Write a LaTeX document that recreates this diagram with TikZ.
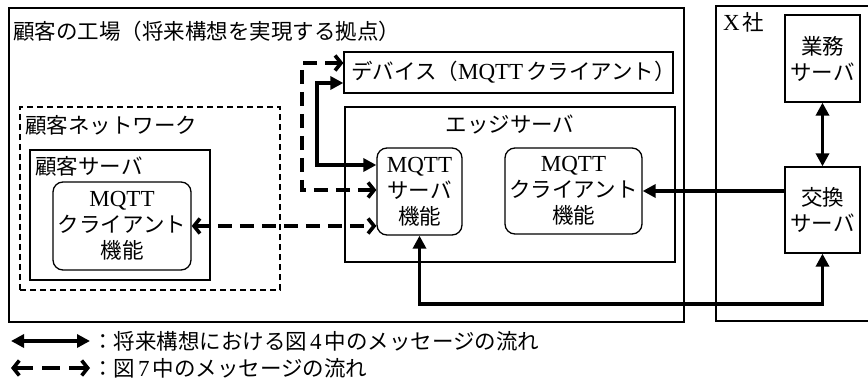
\documentclass[tikz,border=0pt]{standalone}
\usepackage{fontspec}
\setmainfont{Liberation Serif}
\newfontfamily\cjk{Noto Sans CJK JP}
\usetikzlibrary{arrows.meta}
\newcommand\mq{{\fontsize{23}{26}\selectfont MQTT}}
\newcommand\ksp{\hspace{3pt}}
\begin{document}
\begin{tikzpicture}[x=1pt,y=-1pt,
  fs/.style={font=\fontsize{21.5}{26}\selectfont},
  box/.style={draw,line width=1.3pt,inner sep=0pt,fs,align=center},
  rbox/.style={draw,line width=1.3pt,rounded corners=10pt,inner sep=0pt,fs,align=center},
  lbl/.style={inner sep=0pt,fs,anchor=west},
  solidarr/.style={line width=3.6pt,{Triangle[length=13pt,width=13pt]}-{Triangle[length=13pt,width=13pt]}},
  solidone/.style={line width=3.6pt,-{Triangle[length=13pt,width=13pt]}},
  dasharr/.style={line width=3.6pt,dash pattern=on 14pt off 8pt,
    {Straight Barb[length=6pt,width=15pt]}-{Straight Barb[length=6pt,width=15pt]}}
]
\useasboundingbox (0,0) rectangle (868,385);
% containers
\node[box,minimum width=675,minimum height=314] (fac) at (346.5,165) {};
\node[box,minimum width=164,minimum height=315] (xs) at (798,163.5) {};
\node[box,minimum width=329,minimum height=41] (dev) at (508.5,72.5) {};
\node[box,minimum width=330,minimum height=155] (edge) at (510,184.5) {};
\node[draw,line width=1.3pt,dash pattern=on 6pt off 4pt,minimum width=260,minimum height=183] (net) at (150,198.5) {};
\node[box,minimum width=180,minimum height=130] (cs) at (120,215) {};
% inner boxes
\node[rbox,minimum width=85,minimum height=87] (ms) at (419.5,191.5) {\mq\\{\cjk サーバ}\\{\cjk 機能}};
\node[rbox,minimum width=137,minimum height=86] (mc) at (573.5,191) {\mq\\{\cjk クライアント}\\{\cjk 機能}};
\node[rbox,minimum width=138,minimum height=88] (cc) at (122,226) {\mq\\{\cjk クライアント}\\{\cjk 機能}};
\node[box,minimum width=75,minimum height=87] (gy) at (822.5,58.5) {{\cjk 業務}\\{\cjk サーバ}};
\node[box,minimum width=75,minimum height=86] (ex) at (822.5,210) {{\cjk 交換}\\{\cjk サーバ}};
% labels
\node[lbl] (title) at (13,31) {\cjk 顧客の工場（将来構想を実現する拠点）};
\node[lbl] (netl) at (25,125) {\cjk 顧客ネットワーク};
\node[lbl] (csl) at (35,166) {\cjk 顧客サーバ};
\node[inner sep=0pt,fs] (edgel) at (510,125) {\cjk エッジサーバ};
\node[lbl] (xl) at (723,22) {{\fontsize{23}{26}\selectfont X}\ksp{\cjk 社}};
\node[lbl] (devl) at (351,72) {{\cjk デバイス（}\mq\ksp{\cjk クライアント）}};
% connectors
\draw[dasharr] ([yshift=9.5pt]dev.west) -| (302,150) |- ([yshift=1.5pt]ms.west);
\draw[solidarr] ([yshift=-10.5pt]dev.west) -| (317,120) |- ([yshift=26.5pt]ms.west);
\draw[dasharr] (cc.east) -- (cc.east -| ms.west);
\draw[solidarr] (ms.south) |- (600,304) -| (ex.south);
\draw[solidone] (ex.west |- mc.east) -- (mc.east);
\draw[solidarr] (gy.south) -- (ex.north);
% legend
\coordinate (la1) at (11,341);
\coordinate (lb1) at (90,341);
\coordinate (la2) at (11,368);
\coordinate (lb2) at (90,368);
\draw[solidarr] (la1) -- (lb1);
\draw[dasharr,dash pattern=on 18pt off 9pt] (la2) -- (lb2);
\node[lbl] (lt1) at (92,341) {{\cjk ：将来構想における図}\ksp{\fontsize{23}{26}\selectfont 4}\ksp{\cjk 中のメッセージの流れ}};
\node[lbl] (lt2) at (92,368) {{\cjk ：図}\ksp{\fontsize{23}{26}\selectfont 7}\ksp{\cjk 中のメッセージの流れ}};
\end{tikzpicture}
\end{document}
